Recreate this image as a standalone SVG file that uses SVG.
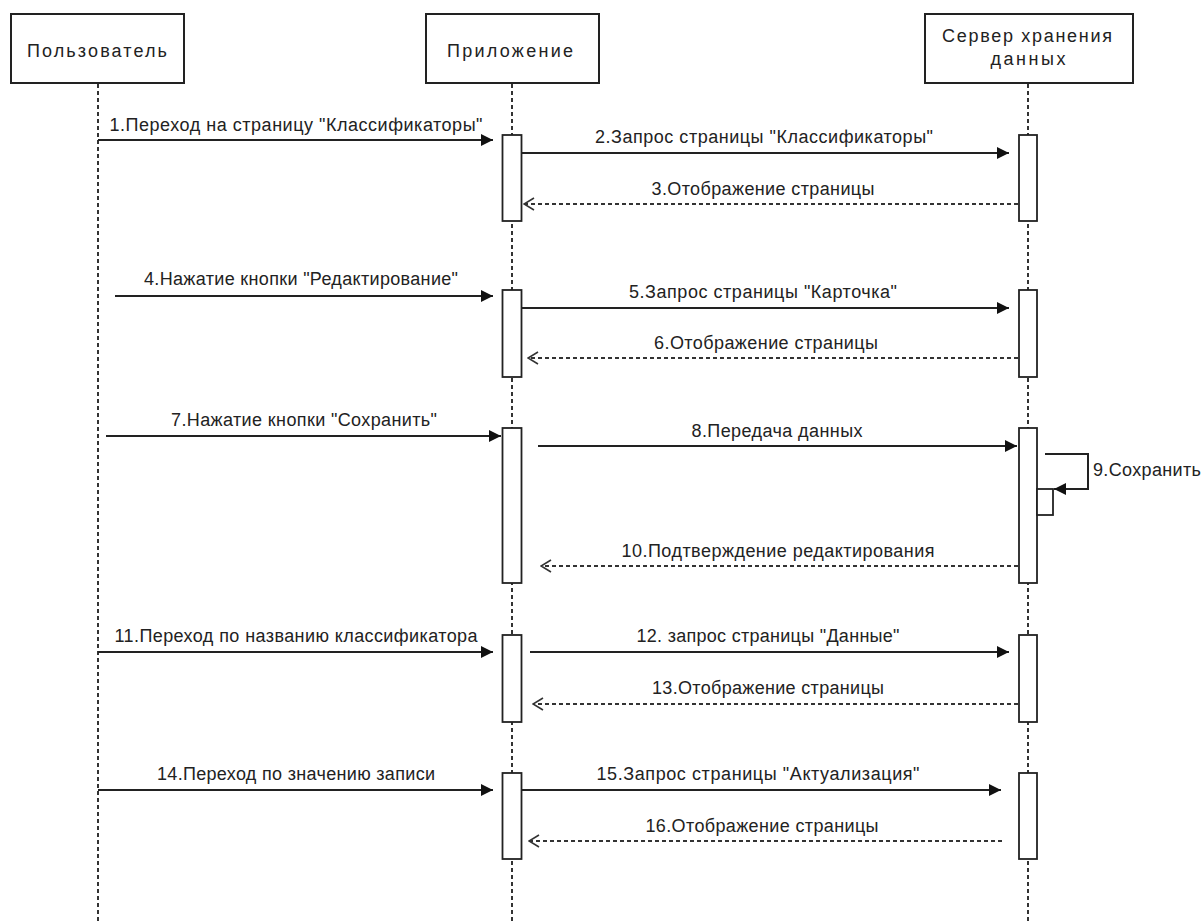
<svg xmlns="http://www.w3.org/2000/svg" width="1204" height="924" viewBox="0 0 1204 924">
<style>
.box{fill:#fff;stroke:#222;stroke-width:2}
.act{fill:#fff;stroke:#222;stroke-width:1.8}
.life{stroke:#333;stroke-width:2;stroke-dasharray:4 3;fill:none}
.msg{stroke:#222;stroke-width:2;fill:none}
.ret{stroke:#333;stroke-width:1.8;stroke-dasharray:4 3;fill:none}
.t{font-family:"Liberation Sans",Arial,sans-serif;font-size:18px;fill:#222}
.c{text-anchor:middle}
</style>
<defs>
<marker id="fill" viewBox="0 0 12 12" refX="12" refY="6" markerWidth="12" markerHeight="12" markerUnits="userSpaceOnUse" orient="auto">
<path d="M0,0 L12,6 L0,12 Z" fill="#111"/>
</marker>
<marker id="open" viewBox="0 0 12 14" refX="11" refY="7" markerWidth="12" markerHeight="14" markerUnits="userSpaceOnUse" orient="auto">
<path d="M1,1 L11,7 L1,13" fill="none" stroke="#333" stroke-width="1.6"/>
</marker>
</defs>
<rect width="1204" height="924" fill="#fff"/>

<g id="lifelines">
<line class="life" x1="98" y1="84" x2="98" y2="924"/>
<line class="life" x1="512" y1="84" x2="512" y2="924"/>
<line class="life" x1="1028" y1="84" x2="1028" y2="924"/>
</g>

<g id="user">
<rect class="box" x="11" y="14" width="173" height="69"/>
<text class="t c" x="97" y="57" textLength="140" lengthAdjust="spacing">Пользователь</text>
</g>
<g id="app">
<rect class="box" x="426" y="14" width="173" height="69"/>
<text class="t c" x="510" y="57" textLength="126" lengthAdjust="spacing">Приложение</text>
</g>
<g id="server">
<rect class="box" x="925" y="14" width="208" height="69"/>
<text class="t c" x="1027" y="42" textLength="170" lengthAdjust="spacing">Сервер хранения</text>
<text class="t c" x="1028" y="65" textLength="75" lengthAdjust="spacing">данных</text>
</g>

<g id="app-activations">
<rect class="act" x="502.5" y="135" width="19" height="86"/>
<rect class="act" x="502.5" y="290" width="19" height="87"/>
<rect class="act" x="502.5" y="428" width="19" height="155"/>
<rect class="act" x="502.5" y="635" width="19" height="87"/>
<rect class="act" x="502.5" y="773" width="19" height="86"/>
</g>
<g id="server-activations">
<rect class="act" x="1019" y="135" width="18" height="86"/>
<rect class="act" x="1019" y="290" width="18" height="87"/>
<rect class="act" x="1019" y="428" width="18" height="155"/>
<rect class="act" x="1037" y="489" width="16" height="26"/>
<rect class="act" x="1019" y="635" width="18" height="87"/>
<rect class="act" x="1019" y="773" width="18" height="86"/>
</g>

<g id="connectors">
<line class="msg" x1="98" y1="140" x2="493" y2="140" marker-end="url(#fill)"/>
<text class="t c" x="296" y="131" textLength="373" lengthAdjust="spacing">1.Переход на страницу "Классификаторы"</text>
<line class="msg" x1="521" y1="153" x2="1009" y2="153" marker-end="url(#fill)"/>
<text class="t c" x="764" y="143" textLength="338" lengthAdjust="spacing">2.Запрос страницы "Классификаторы"</text>
<line class="ret" x1="1018" y1="204" x2="524" y2="204" marker-end="url(#open)"/>
<text class="t c" x="763" y="195" textLength="223" lengthAdjust="spacing">3.Отображение страницы</text>

<line class="msg" x1="115" y1="296" x2="493" y2="296" marker-end="url(#fill)"/>
<text class="t c" x="301" y="285" textLength="314" lengthAdjust="spacing">4.Нажатие кнопки "Редактирование"</text>
<line class="msg" x1="521" y1="308" x2="1009" y2="308" marker-end="url(#fill)"/>
<text class="t c" x="763" y="298" textLength="268" lengthAdjust="spacing">5.Запрос страницы "Карточка"</text>
<line class="ret" x1="1018" y1="358" x2="528" y2="358" marker-end="url(#open)"/>
<text class="t c" x="766" y="349" textLength="224" lengthAdjust="spacing">6.Отображение страницы</text>

<line class="msg" x1="106" y1="436" x2="501" y2="436" marker-end="url(#fill)"/>
<text class="t c" x="304" y="426" textLength="266" lengthAdjust="spacing">7.Нажатие кнопки "Сохранить"</text>
<line class="msg" x1="538" y1="446" x2="1017" y2="446" marker-end="url(#fill)"/>
<text class="t c" x="777" y="437" textLength="171" lengthAdjust="spacing">8.Передача данных</text>
<polyline class="msg" points="1045,454 1088,454 1088,489 1054,489" marker-end="url(#fill)"/>
<text class="t" x="1093" y="476" textLength="108" lengthAdjust="spacing">9.Сохранить</text>
<line class="ret" x1="1018" y1="566" x2="541" y2="566" marker-end="url(#open)"/>
<text class="t c" x="778" y="557" textLength="313" lengthAdjust="spacing">10.Подтверждение редактирования</text>

<line class="msg" x1="98" y1="652" x2="493" y2="652" marker-end="url(#fill)"/>
<text class="t c" x="296" y="642" textLength="363" lengthAdjust="spacing">11.Переход по названию классификатора</text>
<line class="msg" x1="530" y1="652" x2="1009" y2="652" marker-end="url(#fill)"/>
<text class="t c" x="768" y="642" textLength="263" lengthAdjust="spacing">12. запрос страницы "Данные"</text>
<line class="ret" x1="1018" y1="704" x2="533" y2="704" marker-end="url(#open)"/>
<text class="t c" x="768" y="694" textLength="232" lengthAdjust="spacing">13.Отображение страницы</text>

<line class="msg" x1="98" y1="790" x2="493" y2="790" marker-end="url(#fill)"/>
<text class="t c" x="296" y="780" textLength="278" lengthAdjust="spacing">14.Переход по значению записи</text>
<line class="msg" x1="521" y1="790" x2="1001" y2="790" marker-end="url(#fill)"/>
<text class="t c" x="758" y="780" textLength="323" lengthAdjust="spacing">15.Запрос страницы "Актуализация"</text>
<line class="ret" x1="1002" y1="841" x2="529" y2="841" marker-end="url(#open)"/>
<text class="t c" x="762" y="832" textLength="233" lengthAdjust="spacing">16.Отображение страницы</text>
</g>
</svg>
